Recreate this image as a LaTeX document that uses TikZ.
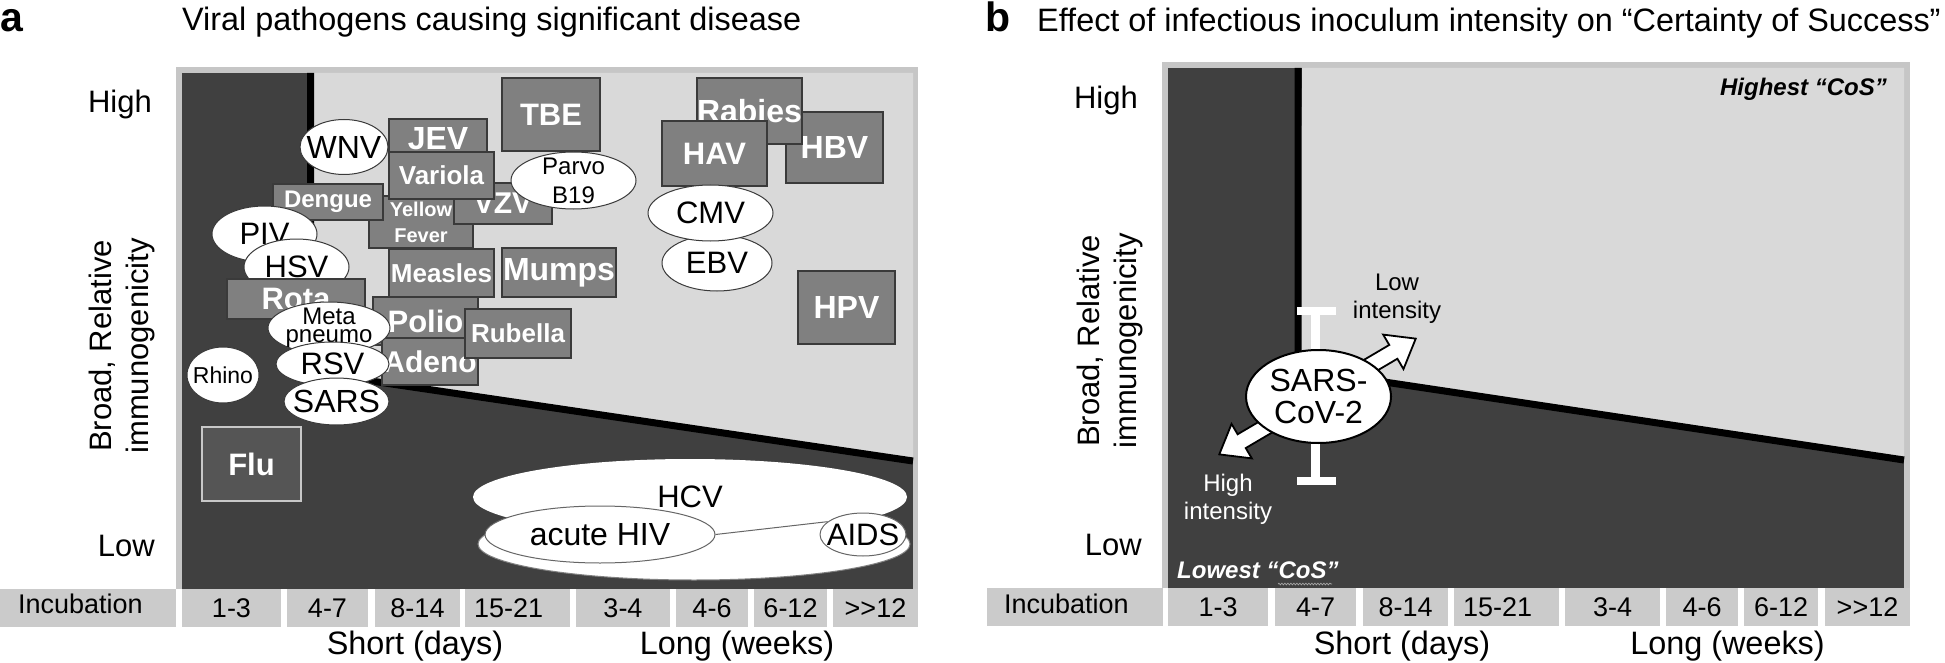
\documentclass[tikz,border=0pt]{standalone}
\usepackage{fontspec}
\setmainfont{Liberation Sans}
\usetikzlibrary{shapes.geometric,decorations.pathmorphing}
\definecolor{darkbg}{HTML}{404040}
\definecolor{lightbg}{HTML}{D9D9D9}
\definecolor{framegray}{HTML}{C6C6C6}
\definecolor{cellgray}{HTML}{CBCBCB}
\definecolor{boxgray}{HTML}{808080}
\definecolor{boxedge}{HTML}{3A3A3A}
\definecolor{flugray}{HTML}{555555}
\definecolor{flurim}{HTML}{C8C8C8}
\newcommand{\fsz}[2]{\fontsize{#1}{#2}\selectfont}
\tikzset{
  every node/.style={inner sep=0pt},
  vbox/.style={rectangle, draw=boxedge, line width=1.3pt, fill=boxgray, text=white, font=\bfseries\fsz{31}{36}, align=center},
  vell/.style={ellipse, draw=boxedge, line width=1pt, fill=white},
  lbl/.style={inner sep=0pt, align=center, text=black, font=\fsz{31}{36}},
  cellnum/.style={rectangle, fill=cellgray, minimum height=38, text height=28pt, text depth=10pt, font=\fsz{27}{32}},
  cellleft/.style={cellnum, inner xsep=9pt, align=left},
  cellinc/.style={rectangle, fill=cellgray, minimum height=38, inner xsep=18pt, inner ysep=0pt, text width=140pt, align=left, font=\fsz{27}{32}},
  axislbl/.style={font=\fsz{31}{37}},
  titlelbl/.style={font=\fsz{32.4}{38}},
  panellbl/.style={font=\bfseries\fsz{41}{46}},
  blackline/.style={black, line width=7pt},
  intlbl/.style={align=center, font=\fsz{24}{28}},
  coslbl/.style={font=\bfseries\itshape\fsz{24}{28}},
}
\begin{document}
\begin{tikzpicture}[x=1pt,y=-1pt]
\useasboundingbox (0,0) rectangle (1945,663);

% ================= panel a =================
\node[panellbl, anchor=base west] (laba) at (0,32) {a};
\node[titlelbl, anchor=base west] (titlea) at (182,31) {Viral pathogens causing significant disease};

\fill[framegray] (176,67) rectangle (918,588.5);
\fill[darkbg] (182,73) rectangle (913,588.5);
\fill[lightbg] (314,73) -- (913,73) -- (913,461) -- (310.5,372) -- cycle;
\draw[blackline] (310.5,73) -- (310.5,372) -- (913,461);

\node[axislbl, anchor=base east] (higha) at (152,113) {High};
\node[axislbl, anchor=base east] (lowa) at (155,556) {Low};
\node[axislbl, rotate=90, align=center] (ylaba) at (122,346) {Broad, Relative\\immunogenicity};

\node[vbox, minimum width=98, minimum height=40, font=\bfseries\fsz{32}{36}] (jev) at (438,139) {JEV};
\node[vbox, minimum width=104, minimum height=52, font=\bfseries\fsz{20}{26}] (yf) at (421,222) {Yellow\\Fever};
\node[vbox, minimum width=110, minimum height=36, font=\bfseries\fsz{24}{28}] (dengue) at (328,202) {Dengue};
\node[vbox, minimum width=98, minimum height=41, font=\bfseries\fsz{30}{34}] (vzv) at (503,203.5) {VZV};
\node[vbox, minimum width=105, minimum height=47, font=\bfseries\fsz{26}{30}] (variola) at (441.5,175.5) {Variola};
\node[vell, minimum width=88, minimum height=55, label={[lbl, font=\fsz{32}{36}]center:WNV}] (wnv) at (344,147) {};
\node[vbox, minimum width=98, minimum height=73] (tbe) at (551,114.5) {TBE};
\node[vell, minimum width=125, minimum height=57, label={[lbl, font=\fsz{24}{29}]center:Parvo\\B19}] (parvo) at (573.5,180.5) {};
\node[vell, minimum width=105, minimum height=56, label={[lbl]center:PIV}] (piv) at (264.5,234) {};
\node[vell, minimum width=105, minimum height=56, label={[lbl]center:HSV}] (hsv) at (296.5,267) {};
\node[vbox, minimum width=138, minimum height=40] (rota) at (296,299) {Rota};
\node[vbox, minimum width=105, minimum height=48] (polio) at (425.5,321) {Polio};
\node[vbox, minimum width=96, minimum height=47, font=\bfseries\fsz{30}{34}] (adeno) at (430,361.5) {Adeno};
\node[vbox, minimum width=106, minimum height=49, font=\bfseries\fsz{26}{30}] (rubella) at (518,333.5) {Rubella};
\node[vbox, minimum width=105, minimum height=48, font=\bfseries\fsz{26}{30}] (measles) at (441.5,273) {Measles};
\node[vbox, minimum width=114, minimum height=49, font=\bfseries\fsz{32}{36}] (mumps) at (559,272.5) {Mumps};
\node[vell, minimum width=122, minimum height=52, label={[lbl, font=\fsz{24}{18}]center:Meta\\pneumo}] (meta) at (329,328) {};
\node[vell, minimum width=113, minimum height=44, label={[lbl]center:RSV}] (rsv) at (332.5,364) {};
\node[vell, minimum width=105, minimum height=47, label={[lbl, font=\fsz{32}{36}]center:SARS}] (sars) at (336.5,401.5) {};
\node[vell, minimum width=72, minimum height=56, label={[lbl, font=\fsz{23}{27}]center:Rhino}] (rhino) at (223,375) {};
\node[vbox, fill=flugray, draw=flurim, minimum width=99, minimum height=74] (flu) at (251.5,464) {Flu};
\node[vbox, minimum width=97, minimum height=71, font=\bfseries\fsz{32}{36}] (hbv) at (834.5,147.5) {HBV};
\node[vbox, minimum width=105, minimum height=66, font=\bfseries\fsz{32}{36}] (rabies) at (749.5,111) {Rabies};
\node[vbox, minimum width=105, minimum height=65] (hav) at (714.5,153.5) {HAV};
\node[vell, minimum width=110, minimum height=56, label={[lbl]center:EBV}] (ebv) at (717,263) {};
\node[vell, minimum width=125, minimum height=56, label={[lbl]center:CMV}] (cmv) at (710.5,213) {};
\node[vbox, minimum width=97, minimum height=73, font=\bfseries\fsz{32}{36}] (hpv) at (846.5,307.5) {HPV};
\node[vell, draw=gray, minimum width=432, minimum height=72] (hiv) at (694,544) {};
\node[ellipse, fill=white, minimum width=434, minimum height=76, label={[lbl]center:HCV}] (hcv) at (690,497) {};
\node[vell, draw=gray!80!black, minimum width=230, minimum height=57, label={[lbl, font=\fsz{32}{36}]center:acute HIV}] (acutehiv) at (600,534.5) {};
\node[vell, draw=gray!80!black, minimum width=86, minimum height=43, label={[lbl]center:AIDS}] (aids) at (863,534.5) {};
\draw[gray!80!black, line width=1pt] (acutehiv.east) -- (aids.160);

% incubation strip a
\node[cellinc, text height=24pt, text depth=14pt] (inca) at (88,608) {Incubation};
\node[cellnum, minimum width=99] (a1) at (231.5,608) {1-3};
\node[cellnum, minimum width=81] (a2) at (327.5,608) {4-7};
\node[cellnum, minimum width=85] (a3) at (417.5,608) {8-14};
\node[cellleft, minimum width=105, text width=87pt] (a4) at (517.5,608) {15-21};
\node[cellnum, minimum width=94] (a5) at (623,608) {3-4};
\node[cellnum, minimum width=72] (a6) at (712,608) {4-6};
\node[cellnum, minimum width=73] (a7) at (790.5,608) {6-12};
\node[cellnum, minimum width=85] (a8) at (875.5,608) {>{}>12};
\node[titlelbl, anchor=base] (shorta) at (415,654) {Short (days)};
\node[titlelbl, anchor=base] (longa) at (737,654) {Long (weeks)};

% ================= panel b =================
\node[panellbl, anchor=base west] (labb) at (985,32) {b};
\node[titlelbl, anchor=base west] (titleb) at (1037,32) {Effect of infectious inoculum intensity on “Certainty of Success”};

\fill[framegray] (1162,62) rectangle (1910,587.5);
\fill[darkbg] (1168,68) rectangle (1904,587.5);
\fill[lightbg] (1302,68) -- (1904,68) -- (1904,460) -- (1298,369) -- cycle;
\draw[blackline] (1298,68) -- (1298,369) -- (1904,460);

\node[axislbl, anchor=base east] (highb) at (1138,109) {High};
\node[axislbl, anchor=base east] (lowb) at (1142,555) {Low};
\node[axislbl, rotate=90, align=center] (ylabb) at (1110,341) {Broad, Relative\\immunogenicity};

\node[coslbl, anchor=base east] (hicos) at (1887,96) {Highest “CoS”};
\node[coslbl, anchor=base west, text=white] (locos) at (1177,578) {Lowest “CoS”};
\draw[gray!70, line width=0.7pt, decorate, decoration={snake, amplitude=0.8pt, segment length=3pt}] (1278,584) -- (1332,584);

% error bar
\draw[white, line width=8pt] (1297,311) -- (1336,311);
\draw[white, line width=9pt] (1315,311) -- (1315,481);
\draw[white, line width=8pt] (1297,481) -- (1336,481);

% double block arrow
\begin{scope}[shift={(1317.5,396.5)}, rotate=30.5]
\draw[fill=white, draw=black, line width=1.8pt, line join=miter]
  (-114,0) -- (-88,20) -- (-88,8) -- (88,8) -- (88,20) -- (114,0) -- (88,-20) -- (88,-8) -- (-88,-8) -- (-88,-20) -- cycle;
\end{scope}

\node[ellipse, draw=black, line width=2pt, fill=white, minimum width=145, minimum height=93, label={[lbl, font=\fsz{32}{32}]center:SARS-\\CoV-2}] (sarscov) at (1318.5,396.5) {};

\node[intlbl] (lowint) at (1397,299) {Low\\intensity};
\node[intlbl, text=white] (highint) at (1228,499) {High\\intensity};

% incubation strip b
\node[cellinc, inner xsep=17pt, text width=142pt, text height=25pt, text depth=13pt] (incb) at (1075,607) {Incubation};
\node[cellnum, minimum width=100] (b1) at (1218,607) {1-3};
\node[cellnum, minimum width=81] (b2) at (1315.5,607) {4-7};
\node[cellnum, minimum width=85] (b3) at (1405.5,607) {8-14};
\node[cellleft, minimum width=105, text width=87pt] (b4) at (1506.5,607) {15-21};
\node[cellnum, minimum width=95] (b5) at (1612.5,607) {3-4};
\node[cellnum, minimum width=72] (b6) at (1702,607) {4-6};
\node[cellnum, minimum width=74] (b7) at (1781,607) {6-12};
\node[cellnum, minimum width=85] (b8) at (1867.5,607) {>{}>12};
\node[titlelbl, anchor=base] (shortb) at (1402,654) {Short (days)};
\node[titlelbl, anchor=base] (longb) at (1727.5,654) {Long (weeks)};
\end{tikzpicture}
\end{document}
